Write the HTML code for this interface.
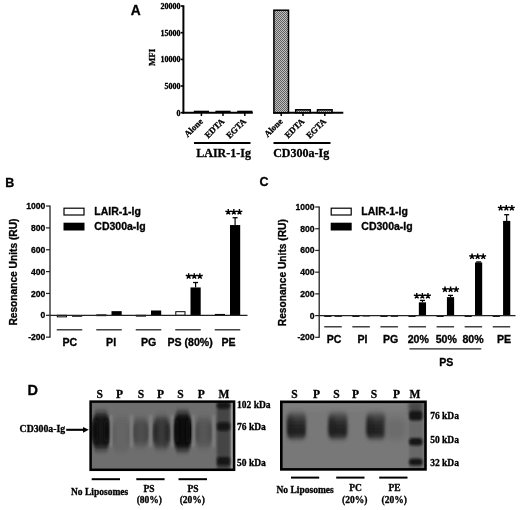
<!DOCTYPE html>
<html><head><meta charset="utf-8"><style>
html,body{margin:0;padding:0;background:#fff;width:520px;height:510px;overflow:hidden;}
svg{display:block;filter:blur(0.5px);}
text{stroke:#000;stroke-width:0.3px;}
</style></head><body>
<svg width="520" height="510" viewBox="0 0 520 510">
<defs>
<pattern id="chk" width="2" height="2" patternUnits="userSpaceOnUse"><rect width="2" height="2" fill="#c0c0c0"/><rect width="1" height="1" fill="#606060"/><rect x="1" y="1" width="1" height="1" fill="#606060"/></pattern>
<filter id="b2v" x="-50%" y="-50%" width="200%" height="200%"><feGaussianBlur stdDeviation="1.5 2.5"/></filter>
<linearGradient id="bg2" x1="0" y1="0" x2="0" y2="1"><stop offset="0" stop-color="#5e5e5e"/><stop offset="0.3" stop-color="#333"/><stop offset="0.65" stop-color="#1e1e1e"/><stop offset="1" stop-color="#2c2c2c"/></linearGradient>
<filter id="b3v" x="-50%" y="-50%" width="200%" height="200%"><feGaussianBlur stdDeviation="1.1 3.2"/></filter>
<filter id="b1" x="-50%" y="-50%" width="200%" height="200%"><feGaussianBlur stdDeviation="1"/></filter>
<filter id="b2" x="-50%" y="-50%" width="200%" height="200%"><feGaussianBlur stdDeviation="2"/></filter>
<filter id="b3" x="-50%" y="-50%" width="200%" height="200%"><feGaussianBlur stdDeviation="3"/></filter>
<clipPath id="clip1"><rect x="90" y="401" width="145" height="69"/></clipPath>
<clipPath id="clip2"><rect x="281" y="401" width="145" height="69"/></clipPath>
</defs>
<text x="130.8" y="14.5" font-family='"Liberation Sans", sans-serif' font-size="13.8" font-weight="bold" text-anchor="start" fill="#000" >A</text>
<line x1="183.4" y1="5.3" x2="183.4" y2="113.6" stroke="#000" stroke-width="2"/>
<line x1="180.8" y1="6.0" x2="183.4" y2="6.0" stroke="#000" stroke-width="1.6"/>
<text x="180.5" y="8.8" font-family='"Liberation Serif", serif' font-size="8" font-weight="bold" text-anchor="end" fill="#000" >20000</text>
<line x1="180.8" y1="32.7" x2="183.4" y2="32.7" stroke="#000" stroke-width="1.6"/>
<text x="180.5" y="35.5" font-family='"Liberation Serif", serif' font-size="8" font-weight="bold" text-anchor="end" fill="#000" >15000</text>
<line x1="180.8" y1="59.4" x2="183.4" y2="59.4" stroke="#000" stroke-width="1.6"/>
<text x="180.5" y="62.199999999999996" font-family='"Liberation Serif", serif' font-size="8" font-weight="bold" text-anchor="end" fill="#000" >10000</text>
<line x1="180.8" y1="86.0" x2="183.4" y2="86.0" stroke="#000" stroke-width="1.6"/>
<text x="180.5" y="88.8" font-family='"Liberation Serif", serif' font-size="8" font-weight="bold" text-anchor="end" fill="#000" >5000</text>
<line x1="180.8" y1="112.7" x2="183.4" y2="112.7" stroke="#000" stroke-width="1.6"/>
<text x="180.5" y="115.5" font-family='"Liberation Serif", serif' font-size="8" font-weight="bold" text-anchor="end" fill="#000" >0</text>
<text transform="translate(154.9,57.4) rotate(-90)" font-family='"Liberation Serif", serif' font-size="8.8" font-weight="bold" text-anchor="middle">MFI</text>
<line x1="182.4" y1="112.7" x2="252.8" y2="112.7" stroke="#000" stroke-width="2"/>
<line x1="273.0" y1="112.7" x2="343.3" y2="112.7" stroke="#000" stroke-width="2"/>
<line x1="201.4" y1="112.7" x2="201.4" y2="116" stroke="#000" stroke-width="1.5"/>
<rect x="193.80" y="110.70" width="15.20" height="2.00" fill="#000"/>
<line x1="223.0" y1="112.7" x2="223.0" y2="116" stroke="#000" stroke-width="1.5"/>
<rect x="215.40" y="110.70" width="15.20" height="2.00" fill="#000"/>
<line x1="244.8" y1="112.7" x2="244.8" y2="116" stroke="#000" stroke-width="1.5"/>
<rect x="237.20" y="110.70" width="15.20" height="2.00" fill="#000"/>
<line x1="281.2" y1="112.7" x2="281.2" y2="116" stroke="#000" stroke-width="1.5"/>
<rect x="273.90" y="10.20" width="14.60" height="102.50" fill="url(#chk)" stroke="#000" stroke-width="1.5"/>
<line x1="303.0" y1="112.7" x2="303.0" y2="116" stroke="#000" stroke-width="1.5"/>
<rect x="295.70" y="109.80" width="14.60" height="2.90" fill="url(#chk)" stroke="#000" stroke-width="1.5"/>
<line x1="324.8" y1="112.7" x2="324.8" y2="116" stroke="#000" stroke-width="1.5"/>
<rect x="317.50" y="109.80" width="14.60" height="2.90" fill="url(#chk)" stroke="#000" stroke-width="1.5"/>
<text transform="translate(203.4,121.9) rotate(-45)" font-family='"Liberation Serif", serif' font-size="8.8" font-weight="bold" text-anchor="end">Alone</text>
<text transform="translate(225.0,121.9) rotate(-45)" font-family='"Liberation Serif", serif' font-size="8.8" font-weight="bold" text-anchor="end">EDTA</text>
<text transform="translate(246.8,121.9) rotate(-45)" font-family='"Liberation Serif", serif' font-size="8.8" font-weight="bold" text-anchor="end">EGTA</text>
<text transform="translate(283.2,121.9) rotate(-45)" font-family='"Liberation Serif", serif' font-size="8.8" font-weight="bold" text-anchor="end">Alone</text>
<text transform="translate(305.0,121.9) rotate(-45)" font-family='"Liberation Serif", serif' font-size="8.8" font-weight="bold" text-anchor="end">EDTA</text>
<text transform="translate(326.8,121.9) rotate(-45)" font-family='"Liberation Serif", serif' font-size="8.8" font-weight="bold" text-anchor="end">EGTA</text>
<line x1="194" y1="142.9" x2="250.5" y2="142.9" stroke="#000" stroke-width="2"/>
<line x1="273.5" y1="142.9" x2="330.5" y2="142.9" stroke="#000" stroke-width="2"/>
<text x="223.6" y="156.7" font-family='"Liberation Serif", serif' font-size="12" font-weight="bold" text-anchor="middle" fill="#000" >LAIR-1-Ig</text>
<text x="301.2" y="156.7" font-family='"Liberation Serif", serif' font-size="12" font-weight="bold" text-anchor="middle" fill="#000" >CD300a-Ig</text>
<text x="5.3" y="187.2" font-family='"Liberation Sans", sans-serif' font-size="12.5" font-weight="bold" text-anchor="start" fill="#000" >B</text>
<line x1="50.0" y1="205.55" x2="50.0" y2="337.65000000000003" stroke="#222" stroke-width="1.3"/>
<line x1="46.0" y1="206.05" x2="50.0" y2="206.05" stroke="#222" stroke-width="1.2"/>
<text x="45.4" y="209.10000000000002" font-family='"Liberation Sans", sans-serif' font-size="8.6" font-weight="bold" text-anchor="end" fill="#000" >1000</text>
<line x1="46.0" y1="227.9" x2="50.0" y2="227.9" stroke="#222" stroke-width="1.2"/>
<text x="45.4" y="230.95000000000002" font-family='"Liberation Sans", sans-serif' font-size="8.6" font-weight="bold" text-anchor="end" fill="#000" >800</text>
<line x1="46.0" y1="249.75" x2="50.0" y2="249.75" stroke="#222" stroke-width="1.2"/>
<text x="45.4" y="252.8" font-family='"Liberation Sans", sans-serif' font-size="8.6" font-weight="bold" text-anchor="end" fill="#000" >600</text>
<line x1="46.0" y1="271.6" x2="50.0" y2="271.6" stroke="#222" stroke-width="1.2"/>
<text x="45.4" y="274.65000000000003" font-family='"Liberation Sans", sans-serif' font-size="8.6" font-weight="bold" text-anchor="end" fill="#000" >400</text>
<line x1="46.0" y1="293.45000000000005" x2="50.0" y2="293.45000000000005" stroke="#222" stroke-width="1.2"/>
<text x="45.4" y="296.50000000000006" font-family='"Liberation Sans", sans-serif' font-size="8.6" font-weight="bold" text-anchor="end" fill="#000" >200</text>
<line x1="46.0" y1="315.3" x2="50.0" y2="315.3" stroke="#222" stroke-width="1.2"/>
<text x="45.4" y="318.35" font-family='"Liberation Sans", sans-serif' font-size="8.6" font-weight="bold" text-anchor="end" fill="#000" >0</text>
<line x1="46.0" y1="337.15000000000003" x2="50.0" y2="337.15000000000003" stroke="#222" stroke-width="1.2"/>
<text x="45.4" y="340.20000000000005" font-family='"Liberation Sans", sans-serif' font-size="8.6" font-weight="bold" text-anchor="end" fill="#000" >-200</text>
<text transform="translate(17.0,272.1) rotate(-90)" font-family='"Liberation Sans", sans-serif' font-size="10.2" font-weight="bold" text-anchor="middle">Resonance Units (RU)</text>
<rect x="64.00" y="208.20" width="20.00" height="6.80" fill="#fff" stroke="#000" stroke-width="1.2"/>
<rect x="63.50" y="222.70" width="21.00" height="7.80" fill="#000"/>
<text transform="translate(94.3,215.4) scale(1.03,1)" font-family='"Liberation Sans", sans-serif' font-size="10.2" font-weight="bold" text-anchor="start" fill="#000" >LAIR-1-Ig</text>
<text transform="translate(94.3,230.4) scale(1.03,1)" font-family='"Liberation Sans", sans-serif' font-size="10.2" font-weight="bold" text-anchor="start" fill="#000" >CD300a-Ig</text>
<rect x="57.30" y="315.30" width="9.20" height="1.53" fill="#fff" stroke="#000" stroke-width="1"/>
<rect x="72.00" y="315.30" width="10.20" height="1.42" fill="#000"/>
<rect x="96.80" y="314.86" width="9.20" height="0.80" fill="#fff" stroke="#000" stroke-width="1"/>
<rect x="111.50" y="311.15" width="10.20" height="4.15" fill="#000"/>
<rect x="136.30" y="315.30" width="9.20" height="0.80" fill="#fff" stroke="#000" stroke-width="1"/>
<rect x="151.00" y="310.49" width="10.20" height="4.81" fill="#000"/>
<rect x="175.80" y="311.69" width="9.20" height="3.61" fill="#fff" stroke="#000" stroke-width="1"/>
<rect x="190.50" y="287.44" width="10.20" height="27.86" fill="#000"/>
<line x1="195.6" y1="282.525" x2="195.6" y2="287.44125" stroke="#000" stroke-width="1.2"/>
<line x1="193.1" y1="282.525" x2="198.1" y2="282.525" stroke="#000" stroke-width="1.3"/>
<rect x="215.30" y="314.43" width="9.20" height="0.87" fill="#fff" stroke="#000" stroke-width="1"/>
<rect x="230.00" y="225.06" width="10.20" height="90.24" fill="#000"/>
<line x1="235.1" y1="217.73975000000002" x2="235.1" y2="225.0595" stroke="#000" stroke-width="1.2"/>
<line x1="232.6" y1="217.73975000000002" x2="237.6" y2="217.73975000000002" stroke="#000" stroke-width="1.3"/>
<line x1="50.0" y1="315.3" x2="247.5" y2="315.3" stroke="#222" stroke-width="1.2"/>
<line x1="56.75" y1="329.8" x2="82.25" y2="329.8" stroke="#222" stroke-width="1.3"/>
<line x1="96.25" y1="329.8" x2="121.75" y2="329.8" stroke="#222" stroke-width="1.3"/>
<line x1="135.75" y1="329.8" x2="161.25" y2="329.8" stroke="#222" stroke-width="1.3"/>
<line x1="175.25" y1="329.8" x2="200.75" y2="329.8" stroke="#222" stroke-width="1.3"/>
<line x1="214.75" y1="329.8" x2="240.25" y2="329.8" stroke="#222" stroke-width="1.3"/>
<text transform="translate(69.89999999999999,346.3) scale(1.06,1)" font-family='"Liberation Sans", sans-serif' font-size="10" font-weight="bold" text-anchor="middle" fill="#000" >PC</text>
<text transform="translate(111.1,346.3) scale(1.06,1)" font-family='"Liberation Sans", sans-serif' font-size="10" font-weight="bold" text-anchor="middle" fill="#000" >PI</text>
<text transform="translate(148.70000000000002,346.3) scale(1.06,1)" font-family='"Liberation Sans", sans-serif' font-size="10" font-weight="bold" text-anchor="middle" fill="#000" >PG</text>
<text transform="translate(190.10000000000002,346.3) scale(1.06,1)" font-family='"Liberation Sans", sans-serif' font-size="10" font-weight="bold" text-anchor="middle" fill="#000" >PS (80%)</text>
<text transform="translate(228.5,346.3) scale(1.06,1)" font-family='"Liberation Sans", sans-serif' font-size="10" font-weight="bold" text-anchor="middle" fill="#000" >PE</text>
<path d="M188.65,276.20 L188.65,273.20 M188.65,276.20 L191.50,275.27 M188.65,276.20 L190.41,278.63 M188.65,276.20 L186.89,278.63 M188.65,276.20 L185.80,275.27 M194.25,276.20 L194.25,273.20 M194.25,276.20 L197.10,275.27 M194.25,276.20 L196.01,278.63 M194.25,276.20 L192.49,278.63 M194.25,276.20 L191.40,275.27 M199.85,276.20 L199.85,273.20 M199.85,276.20 L202.70,275.27 M199.85,276.20 L201.61,278.63 M199.85,276.20 L198.09,278.63 M199.85,276.20 L197.00,275.27" fill="none" stroke="#000" stroke-width="1.45" stroke-linecap="butt"/>
<path d="M228.25,212.00 L228.25,209.00 M228.25,212.00 L231.10,211.07 M228.25,212.00 L230.01,214.43 M228.25,212.00 L226.49,214.43 M228.25,212.00 L225.40,211.07 M233.85,212.00 L233.85,209.00 M233.85,212.00 L236.70,211.07 M233.85,212.00 L235.61,214.43 M233.85,212.00 L232.09,214.43 M233.85,212.00 L231.00,211.07 M239.45,212.00 L239.45,209.00 M239.45,212.00 L242.30,211.07 M239.45,212.00 L241.21,214.43 M239.45,212.00 L237.69,214.43 M239.45,212.00 L236.60,211.07" fill="none" stroke="#000" stroke-width="1.45" stroke-linecap="butt"/>
<text x="259.5" y="185.6" font-family='"Liberation Sans", sans-serif' font-size="12.5" font-weight="bold" text-anchor="start" fill="#000" >C</text>
<line x1="319.2" y1="206.50000000000003" x2="319.2" y2="337.82000000000005" stroke="#222" stroke-width="1.3"/>
<line x1="315.2" y1="207.00000000000003" x2="319.2" y2="207.00000000000003" stroke="#222" stroke-width="1.2"/>
<text x="314.59999999999997" y="210.05000000000004" font-family='"Liberation Sans", sans-serif' font-size="8.6" font-weight="bold" text-anchor="end" fill="#000" >1000</text>
<line x1="315.2" y1="228.72000000000003" x2="319.2" y2="228.72000000000003" stroke="#222" stroke-width="1.2"/>
<text x="314.59999999999997" y="231.77000000000004" font-family='"Liberation Sans", sans-serif' font-size="8.6" font-weight="bold" text-anchor="end" fill="#000" >800</text>
<line x1="315.2" y1="250.44000000000003" x2="319.2" y2="250.44000000000003" stroke="#222" stroke-width="1.2"/>
<text x="314.59999999999997" y="253.49000000000004" font-family='"Liberation Sans", sans-serif' font-size="8.6" font-weight="bold" text-anchor="end" fill="#000" >600</text>
<line x1="315.2" y1="272.16" x2="319.2" y2="272.16" stroke="#222" stroke-width="1.2"/>
<text x="314.59999999999997" y="275.21000000000004" font-family='"Liberation Sans", sans-serif' font-size="8.6" font-weight="bold" text-anchor="end" fill="#000" >400</text>
<line x1="315.2" y1="293.88" x2="319.2" y2="293.88" stroke="#222" stroke-width="1.2"/>
<text x="314.59999999999997" y="296.93" font-family='"Liberation Sans", sans-serif' font-size="8.6" font-weight="bold" text-anchor="end" fill="#000" >200</text>
<line x1="315.2" y1="315.6" x2="319.2" y2="315.6" stroke="#222" stroke-width="1.2"/>
<text x="314.59999999999997" y="318.65000000000003" font-family='"Liberation Sans", sans-serif' font-size="8.6" font-weight="bold" text-anchor="end" fill="#000" >0</text>
<line x1="315.2" y1="337.32000000000005" x2="319.2" y2="337.32000000000005" stroke="#222" stroke-width="1.2"/>
<text x="314.59999999999997" y="340.37000000000006" font-family='"Liberation Sans", sans-serif' font-size="8.6" font-weight="bold" text-anchor="end" fill="#000" >-200</text>
<text transform="translate(286.0,272.7) rotate(-90)" font-family='"Liberation Sans", sans-serif' font-size="10.2" font-weight="bold" text-anchor="middle">Resonance Units (RU)</text>
<rect x="331.20" y="208.20" width="20.00" height="6.80" fill="#fff" stroke="#000" stroke-width="1.2"/>
<rect x="330.70" y="222.70" width="21.00" height="7.80" fill="#000"/>
<text transform="translate(361.3,215.4) scale(1.03,1)" font-family='"Liberation Sans", sans-serif' font-size="10.2" font-weight="bold" text-anchor="start" fill="#000" >LAIR-1-Ig</text>
<text transform="translate(361.3,230.4) scale(1.03,1)" font-family='"Liberation Sans", sans-serif' font-size="10.2" font-weight="bold" text-anchor="start" fill="#000" >CD300a-Ig</text>
<rect x="324.70" y="315.60" width="6.20" height="0.80" fill="#fff" stroke="#000" stroke-width="1"/>
<rect x="334.60" y="315.60" width="7.20" height="1.20" fill="#000"/>
<rect x="352.78" y="315.60" width="6.20" height="0.80" fill="#fff" stroke="#000" stroke-width="1"/>
<rect x="362.68" y="315.27" width="7.20" height="1.20" fill="#000"/>
<rect x="380.86" y="315.60" width="6.20" height="0.80" fill="#fff" stroke="#000" stroke-width="1"/>
<rect x="390.76" y="315.60" width="7.20" height="1.20" fill="#000"/>
<rect x="408.94" y="315.60" width="6.20" height="0.80" fill="#fff" stroke="#000" stroke-width="1"/>
<rect x="418.84" y="302.35" width="7.20" height="13.25" fill="#000"/>
<line x1="422.44" y1="300.396" x2="422.44" y2="302.35080000000005" stroke="#000" stroke-width="1.2"/>
<line x1="419.94" y1="300.396" x2="424.94" y2="300.396" stroke="#000" stroke-width="1.3"/>
<rect x="437.02" y="315.60" width="6.20" height="0.80" fill="#fff" stroke="#000" stroke-width="1"/>
<rect x="446.92" y="297.14" width="7.20" height="18.46" fill="#000"/>
<line x1="450.52" y1="295.40040000000005" x2="450.52" y2="297.13800000000003" stroke="#000" stroke-width="1.2"/>
<line x1="448.02" y1="295.40040000000005" x2="453.02" y2="295.40040000000005" stroke="#000" stroke-width="1.3"/>
<rect x="465.10" y="315.60" width="6.20" height="0.80" fill="#fff" stroke="#000" stroke-width="1"/>
<rect x="475.00" y="262.49" width="7.20" height="53.11" fill="#000"/>
<line x1="478.59999999999997" y1="261.95160000000004" x2="478.59999999999997" y2="262.49460000000005" stroke="#000" stroke-width="1.2"/>
<line x1="476.09999999999997" y1="261.95160000000004" x2="481.09999999999997" y2="261.95160000000004" stroke="#000" stroke-width="1.3"/>
<rect x="493.18" y="315.60" width="6.20" height="0.80" fill="#fff" stroke="#000" stroke-width="1"/>
<rect x="503.08" y="220.90" width="7.20" height="94.70" fill="#000"/>
<line x1="506.68" y1="214.71060000000003" x2="506.68" y2="220.90080000000003" stroke="#000" stroke-width="1.2"/>
<line x1="504.18" y1="214.71060000000003" x2="509.18" y2="214.71060000000003" stroke="#000" stroke-width="1.3"/>
<line x1="319.2" y1="315.6" x2="515.5" y2="315.6" stroke="#222" stroke-width="1.2"/>
<line x1="324.25" y1="326.8" x2="341.75" y2="326.8" stroke="#222" stroke-width="1.3"/>
<line x1="352.33" y1="326.8" x2="369.83" y2="326.8" stroke="#222" stroke-width="1.3"/>
<line x1="380.40999999999997" y1="326.8" x2="397.90999999999997" y2="326.8" stroke="#222" stroke-width="1.3"/>
<line x1="408.49" y1="326.8" x2="425.99" y2="326.8" stroke="#222" stroke-width="1.3"/>
<line x1="436.57" y1="326.8" x2="454.07" y2="326.8" stroke="#222" stroke-width="1.3"/>
<line x1="464.65" y1="326.8" x2="482.15" y2="326.8" stroke="#222" stroke-width="1.3"/>
<line x1="492.73" y1="326.8" x2="510.23" y2="326.8" stroke="#222" stroke-width="1.3"/>
<text transform="translate(334.0,343.4) scale(1.06,1)" font-family='"Liberation Sans", sans-serif' font-size="10" font-weight="bold" text-anchor="middle" fill="#000" >PC</text>
<text transform="translate(362.40000000000003,343.4) scale(1.06,1)" font-family='"Liberation Sans", sans-serif' font-size="10" font-weight="bold" text-anchor="middle" fill="#000" >PI</text>
<text transform="translate(390.7,343.4) scale(1.06,1)" font-family='"Liberation Sans", sans-serif' font-size="10" font-weight="bold" text-anchor="middle" fill="#000" >PG</text>
<text transform="translate(418.3,343.4) scale(1.06,1)" font-family='"Liberation Sans", sans-serif' font-size="10" font-weight="bold" text-anchor="middle" fill="#000" >20%</text>
<text transform="translate(446.3,343.4) scale(1.06,1)" font-family='"Liberation Sans", sans-serif' font-size="10" font-weight="bold" text-anchor="middle" fill="#000" >50%</text>
<text transform="translate(473.0,343.4) scale(1.06,1)" font-family='"Liberation Sans", sans-serif' font-size="10" font-weight="bold" text-anchor="middle" fill="#000" >80%</text>
<text transform="translate(504.1,343.4) scale(1.06,1)" font-family='"Liberation Sans", sans-serif' font-size="10" font-weight="bold" text-anchor="middle" fill="#000" >PE</text>
<path d="M416.75,295.90 L416.75,292.90 M416.75,295.90 L419.60,294.97 M416.75,295.90 L418.51,298.33 M416.75,295.90 L414.99,298.33 M416.75,295.90 L413.90,294.97 M422.35,295.90 L422.35,292.90 M422.35,295.90 L425.20,294.97 M422.35,295.90 L424.11,298.33 M422.35,295.90 L420.59,298.33 M422.35,295.90 L419.50,294.97 M427.95,295.90 L427.95,292.90 M427.95,295.90 L430.80,294.97 M427.95,295.90 L429.71,298.33 M427.95,295.90 L426.19,298.33 M427.95,295.90 L425.10,294.97" fill="none" stroke="#000" stroke-width="1.45" stroke-linecap="butt"/>
<path d="M445.00,289.50 L445.00,286.50 M445.00,289.50 L447.85,288.57 M445.00,289.50 L446.76,291.93 M445.00,289.50 L443.24,291.93 M445.00,289.50 L442.15,288.57 M450.60,289.50 L450.60,286.50 M450.60,289.50 L453.45,288.57 M450.60,289.50 L452.36,291.93 M450.60,289.50 L448.84,291.93 M450.60,289.50 L447.75,288.57 M456.20,289.50 L456.20,286.50 M456.20,289.50 L459.05,288.57 M456.20,289.50 L457.96,291.93 M456.20,289.50 L454.44,291.93 M456.20,289.50 L453.35,288.57" fill="none" stroke="#000" stroke-width="1.45" stroke-linecap="butt"/>
<path d="M472.05,256.50 L472.05,253.50 M472.05,256.50 L474.90,255.57 M472.05,256.50 L473.81,258.93 M472.05,256.50 L470.29,258.93 M472.05,256.50 L469.20,255.57 M477.65,256.50 L477.65,253.50 M477.65,256.50 L480.50,255.57 M477.65,256.50 L479.41,258.93 M477.65,256.50 L475.89,258.93 M477.65,256.50 L474.80,255.57 M483.25,256.50 L483.25,253.50 M483.25,256.50 L486.10,255.57 M483.25,256.50 L485.01,258.93 M483.25,256.50 L481.49,258.93 M483.25,256.50 L480.40,255.57" fill="none" stroke="#000" stroke-width="1.45" stroke-linecap="butt"/>
<path d="M500.70,208.00 L500.70,205.00 M500.70,208.00 L503.55,207.07 M500.70,208.00 L502.46,210.43 M500.70,208.00 L498.94,210.43 M500.70,208.00 L497.85,207.07 M506.30,208.00 L506.30,205.00 M506.30,208.00 L509.15,207.07 M506.30,208.00 L508.06,210.43 M506.30,208.00 L504.54,210.43 M506.30,208.00 L503.45,207.07 M511.90,208.00 L511.90,205.00 M511.90,208.00 L514.75,207.07 M511.90,208.00 L513.66,210.43 M511.90,208.00 L510.14,210.43 M511.90,208.00 L509.05,207.07" fill="none" stroke="#000" stroke-width="1.45" stroke-linecap="butt"/>
<line x1="409.4" y1="348.8" x2="481.3" y2="348.8" stroke="#222" stroke-width="1.3"/>
<text transform="translate(446.3,365.9) scale(1.06,1)" font-family='"Liberation Sans", sans-serif' font-size="10" font-weight="bold" text-anchor="middle" fill="#000" >PS</text>
<text x="27.6" y="395.2" font-family='"Liberation Sans", sans-serif' font-size="14.5" font-weight="bold" text-anchor="start" fill="#000" >D</text>
<text x="99.8" y="398.3" font-family='"Liberation Serif", serif' font-size="11.5" font-weight="bold" text-anchor="middle" fill="#000" >S</text>
<text x="119.5" y="398.3" font-family='"Liberation Serif", serif' font-size="11.5" font-weight="bold" text-anchor="middle" fill="#000" >P</text>
<text x="141.0" y="398.3" font-family='"Liberation Serif", serif' font-size="11.5" font-weight="bold" text-anchor="middle" fill="#000" >S</text>
<text x="160.4" y="398.3" font-family='"Liberation Serif", serif' font-size="11.5" font-weight="bold" text-anchor="middle" fill="#000" >P</text>
<text x="180.4" y="398.3" font-family='"Liberation Serif", serif' font-size="11.5" font-weight="bold" text-anchor="middle" fill="#000" >S</text>
<text x="201.3" y="398.3" font-family='"Liberation Serif", serif' font-size="11.5" font-weight="bold" text-anchor="middle" fill="#000" >P</text>
<text x="224.0" y="398.3" font-family='"Liberation Serif", serif' font-size="11.5" font-weight="bold" text-anchor="middle" fill="#000" >M</text>
<text x="294.4" y="398.3" font-family='"Liberation Serif", serif' font-size="11.5" font-weight="bold" text-anchor="middle" fill="#000" >S</text>
<text x="316.5" y="398.3" font-family='"Liberation Serif", serif' font-size="11.5" font-weight="bold" text-anchor="middle" fill="#000" >P</text>
<text x="336.5" y="398.3" font-family='"Liberation Serif", serif' font-size="11.5" font-weight="bold" text-anchor="middle" fill="#000" >S</text>
<text x="355.6" y="398.3" font-family='"Liberation Serif", serif' font-size="11.5" font-weight="bold" text-anchor="middle" fill="#000" >P</text>
<text x="374.0" y="398.3" font-family='"Liberation Serif", serif' font-size="11.5" font-weight="bold" text-anchor="middle" fill="#000" >S</text>
<text x="396.5" y="398.3" font-family='"Liberation Serif", serif' font-size="11.5" font-weight="bold" text-anchor="middle" fill="#000" >P</text>
<text x="415.0" y="398.3" font-family='"Liberation Serif", serif' font-size="11.5" font-weight="bold" text-anchor="middle" fill="#000" >M</text>
<g clip-path="url(#clip1)">
<rect x="90" y="401" width="145" height="69" fill="#6e6e6e"/>
<path d="M95.76,413.00 L106.34,413.00 L110.50,423.80 L110.50,438.92 L106.72,449.00 L95.38,449.00 L91.60,438.92 L91.60,423.80 Z" fill="#171717" filter="url(#b3v)"/>
<rect x="93.1" y="420.2" width="5" height="21.599999999999998" rx="2" fill="#0e0e0e" filter="url(#b3v)"/>
<rect x="104.0" y="420.2" width="5" height="21.599999999999998" rx="2" fill="#0e0e0e" filter="url(#b3v)"/>
<path d="M116.03,417.00 L126.27,417.00 L130.30,427.50 L130.30,442.20 L126.64,452.00 L115.66,452.00 L112.00,442.20 L112.00,427.50 Z" fill="#656565" filter="url(#b3v)"/>
<rect x="113.5" y="424.0" width="3" height="21.0" rx="2" fill="#606060" filter="url(#b3v)"/>
<rect x="125.80000000000001" y="424.0" width="3" height="21.0" rx="2" fill="#606060" filter="url(#b3v)"/>
<path d="M136.11,419.00 L145.29,419.00 L148.90,426.95 L148.90,438.08 L145.62,445.50 L135.78,445.50 L132.50,438.08 L132.50,426.95 Z" fill="#4e4e4e" filter="url(#b3v)"/>
<rect x="134.0" y="424.3" width="3.5" height="15.899999999999999" rx="2" fill="#464646" filter="url(#b3v)"/>
<rect x="143.9" y="424.3" width="3.5" height="15.899999999999999" rx="2" fill="#464646" filter="url(#b3v)"/>
<path d="M156.46,417.00 L166.54,417.00 L170.50,426.30 L170.50,439.32 L166.90,448.00 L156.10,448.00 L152.50,439.32 L152.50,426.30 Z" fill="#3a3a3a" filter="url(#b3v)"/>
<rect x="154.0" y="423.2" width="4.5" height="18.599999999999998" rx="2" fill="#2c2c2c" filter="url(#b3v)"/>
<rect x="164.5" y="423.2" width="4.5" height="18.599999999999998" rx="2" fill="#2c2c2c" filter="url(#b3v)"/>
<path d="M177.28,412.50 L187.92,412.50 L192.10,423.75 L192.10,439.50 L188.30,450.00 L176.90,450.00 L173.10,439.50 L173.10,423.75 Z" fill="#101010" filter="url(#b3v)"/>
<rect x="174.6" y="420.0" width="5" height="22.5" rx="2" fill="#080808" filter="url(#b3v)"/>
<rect x="185.6" y="420.0" width="5" height="22.5" rx="2" fill="#080808" filter="url(#b3v)"/>
<path d="M198.89,418.00 L208.81,418.00 L212.70,426.70 L212.70,438.88 L209.16,447.00 L198.54,447.00 L195.00,438.88 L195.00,426.70 Z" fill="#575757" filter="url(#b3v)"/>
<rect x="196.5" y="423.8" width="3.5" height="17.4" rx="2" fill="#4d4d4d" filter="url(#b3v)"/>
<rect x="207.7" y="423.8" width="3.5" height="17.4" rx="2" fill="#4d4d4d" filter="url(#b3v)"/>
<rect x="110.0" y="415" width="2" height="32" fill="#868686" filter="url(#b1)"/>
<rect x="130.5" y="415" width="2" height="32" fill="#868686" filter="url(#b1)"/>
<rect x="149.7" y="415" width="2" height="32" fill="#868686" filter="url(#b1)"/>
<rect x="171.4" y="415" width="2" height="32" fill="#868686" filter="url(#b1)"/>
<rect x="192.2" y="415" width="2" height="32" fill="#868686" filter="url(#b1)"/>
<rect x="212.8" y="415" width="2" height="32" fill="#868686" filter="url(#b1)"/>
<rect x="216.8" y="401" width="13.2" height="69" fill="#444" filter="url(#b1)"/>
<rect x="230.8" y="401" width="2.5" height="69" fill="#959595"/>
<rect x="217" y="402.25" width="13" height="6.5" rx="3" fill="#121212" filter="url(#b1)"/>
<rect x="217" y="422.25" width="13" height="8.5" rx="3" fill="#121212" filter="url(#b1)"/>
<rect x="217" y="456.95" width="13" height="8.5" rx="3" fill="#121212" filter="url(#b1)"/>
</g>
<rect x="90.6" y="401.6" width="143.5" height="68.2" fill="none" stroke="#000" stroke-width="2.5"/>
<g clip-path="url(#clip2)">
<rect x="281" y="401" width="145" height="69" fill="#787878"/>
<rect x="281" y="396" width="145" height="14" fill="#7f7f7f" filter="url(#b3)"/>
<rect x="287.0" y="412.5" width="19" height="26" rx="4" ry="5" fill="url(#bg2)" filter="url(#b2v)"/>
<rect x="287.8" y="418" width="5" height="17" rx="2" fill="#1a1a1a" filter="url(#b2v)" opacity="0.6"/>
<rect x="328.4" y="412.5" width="19" height="26" rx="4" ry="5" fill="url(#bg2)" filter="url(#b2v)"/>
<rect x="329.2" y="418" width="5" height="17" rx="2" fill="#1a1a1a" filter="url(#b2v)" opacity="0.6"/>
<rect x="366.4" y="412.5" width="19" height="26" rx="4" ry="5" fill="url(#bg2)" filter="url(#b2v)"/>
<rect x="367.2" y="418" width="5" height="17" rx="2" fill="#1a1a1a" filter="url(#b2v)" opacity="0.6"/>
<rect x="386" y="418" width="20" height="22" rx="8.0" ry="5.5" fill="#6c6c6c" filter="url(#b3)"/>
<rect x="409" y="401" width="13.5" height="69" fill="#686868" filter="url(#b1)"/>
<rect x="409" y="403" width="13.5" height="8" fill="#444" filter="url(#b2)"/>
<rect x="409" y="410.5" width="13.5" height="10" rx="3.5" fill="#141414" filter="url(#b1)"/>
<rect x="409" y="438.05" width="13.5" height="7.5" rx="3.5" fill="#141414" filter="url(#b1)"/>
<rect x="409" y="458.5" width="13.5" height="7" rx="3.5" fill="#141414" filter="url(#b1)"/>
</g>
<rect x="281.3" y="401.8" width="144.2" height="67.6" fill="none" stroke="#000" stroke-width="2.6"/>
<text transform="translate(19.6,432.4) scale(1.05,1)" font-family='"Liberation Serif", serif' font-size="9.3" font-weight="bold" text-anchor="start" fill="#000" >CD300a-Ig</text>
<line x1="66.2" y1="429.8" x2="85" y2="429.8" stroke="#000" stroke-width="2.1"/>
<path d="M88.8,429.8 L83,426.9 L83,432.7 Z" fill="#000"/>
<text x="237" y="408.4" font-family='"Liberation Serif", serif' font-size="9.5" font-weight="bold" text-anchor="start" fill="#000" >102 kDa</text>
<text x="237" y="429.9" font-family='"Liberation Serif", serif' font-size="9.5" font-weight="bold" text-anchor="start" fill="#000" >76 kDa</text>
<text x="237" y="465.9" font-family='"Liberation Serif", serif' font-size="9.5" font-weight="bold" text-anchor="start" fill="#000" >50 kDa</text>
<text x="430.2" y="418.9" font-family='"Liberation Serif", serif' font-size="9.5" font-weight="bold" text-anchor="start" fill="#000" >76 kDa</text>
<text x="430.2" y="442.9" font-family='"Liberation Serif", serif' font-size="9.5" font-weight="bold" text-anchor="start" fill="#000" >50 kDa</text>
<text x="430.2" y="465.7" font-family='"Liberation Serif", serif' font-size="9.5" font-weight="bold" text-anchor="start" fill="#000" >32 kDa</text>
<line x1="91.7" y1="479.2" x2="120.0" y2="479.2" stroke="#000" stroke-width="2"/>
<line x1="136.3" y1="479.2" x2="164.6" y2="479.2" stroke="#000" stroke-width="2"/>
<line x1="178.5" y1="479.2" x2="207.0" y2="479.2" stroke="#000" stroke-width="2"/>
<line x1="291.0" y1="477.6" x2="319.2" y2="477.6" stroke="#000" stroke-width="2"/>
<line x1="336.2" y1="477.6" x2="364.5" y2="477.6" stroke="#000" stroke-width="2"/>
<line x1="379.2" y1="477.6" x2="407.5" y2="477.6" stroke="#000" stroke-width="2"/>
<text x="99.6" y="494.7" font-family='"Liberation Serif", serif' font-size="9.5" font-weight="bold" text-anchor="middle" fill="#000" >No Liposomes</text>
<text x="149.1" y="492.2" font-family='"Liberation Serif", serif' font-size="9.5" font-weight="bold" text-anchor="middle" fill="#000" >PS</text>
<text x="149.3" y="503.2" font-family='"Liberation Serif", serif' font-size="9.5" font-weight="bold" text-anchor="middle" fill="#000" >(80%)</text>
<text x="193.1" y="492.2" font-family='"Liberation Serif", serif' font-size="9.5" font-weight="bold" text-anchor="middle" fill="#000" >PS</text>
<text x="192.3" y="503.2" font-family='"Liberation Serif", serif' font-size="9.5" font-weight="bold" text-anchor="middle" fill="#000" >(20%)</text>
<text x="305.1" y="493.1" font-family='"Liberation Serif", serif' font-size="9.5" font-weight="bold" text-anchor="middle" fill="#000" >No Liposomes</text>
<text x="355.5" y="491.2" font-family='"Liberation Serif", serif' font-size="9.5" font-weight="bold" text-anchor="middle" fill="#000" >PC</text>
<text x="354.7" y="502.6" font-family='"Liberation Serif", serif' font-size="9.5" font-weight="bold" text-anchor="middle" fill="#000" >(20%)</text>
<text x="394.6" y="491.2" font-family='"Liberation Serif", serif' font-size="9.5" font-weight="bold" text-anchor="middle" fill="#000" >PE</text>
<text x="394.2" y="502.6" font-family='"Liberation Serif", serif' font-size="9.5" font-weight="bold" text-anchor="middle" fill="#000" >(20%)</text>
</svg>
</body></html>
